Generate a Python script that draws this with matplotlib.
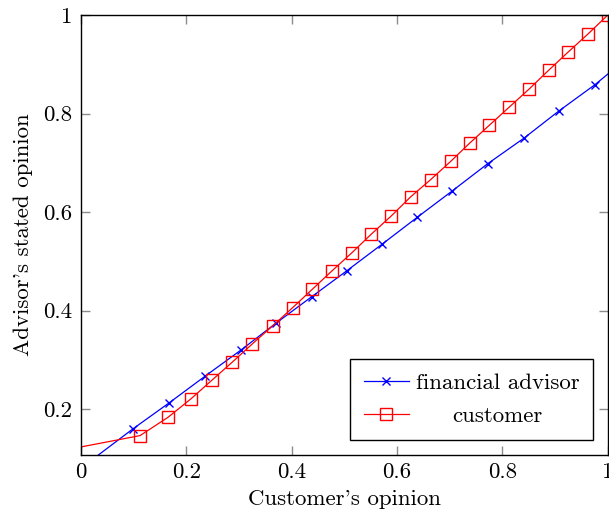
import matplotlib
matplotlib.use('Agg')
import matplotlib.pyplot as plt

plt.rcParams['font.family'] = ['cmr10', 'DejaVu Serif']
plt.rcParams['axes.formatter.use_mathtext'] = True
plt.rcParams['mathtext.fontset'] = 'cm'

# financial advisor (first/last points are the line ends, unmarked)
advisor_x = [0.0, 0.099, 0.168, 0.236, 0.304, 0.371, 0.438, 0.505, 0.572, 0.638,
             0.705, 0.772, 0.841, 0.907, 0.975, 1.0]
advisor_y = [0.080, 0.160, 0.213, 0.267, 0.320, 0.375, 0.428, 0.481, 0.535, 0.589,
             0.643, 0.698, 0.750, 0.805, 0.858, 0.880]

# customer (first point is the line end at the left edge, unmarked)
customer_x = [0.0, 0.112, 0.165, 0.208, 0.248, 0.287, 0.325, 0.364, 0.402, 0.439,
              0.476, 0.514, 0.551, 0.589, 0.626, 0.664, 0.702, 0.738, 0.775,
              0.813, 0.851, 0.888, 0.925, 0.963, 1.0]
customer_y = [0.123, 0.146, 0.183, 0.220, 0.258, 0.295, 0.332, 0.369, 0.406, 0.443,
              0.480, 0.517, 0.555, 0.592, 0.631, 0.666, 0.703, 0.740, 0.776,
              0.813, 0.850, 0.888, 0.925, 0.962, 1.0]

xticks = [0, 0.2, 0.4, 0.6, 0.8, 1]
xticklabels = ['0', '0.2', '0.4', '0.6', '0.8', '1']
yticks = [0.2, 0.4, 0.6, 0.8, 1]
yticklabels = ['0.2', '0.4', '0.6', '0.8', '1']

fs = 16.5

fig = plt.figure(figsize=(6.09, 5.12), dpi=100)
ax = fig.add_axes([0.133, 0.1113, 0.865, 0.8594])

ax.plot(advisor_x, advisor_y, color='blue', lw=0.9, marker='x', ms=6, mew=1.0,
        markevery=list(range(1, len(advisor_x) - 1)), label='financial advisor')
ax.plot(customer_x, customer_y, color='red', lw=0.9, marker='s', ms=8.5, mew=1.0,
        mfc='none', markevery=list(range(1, len(customer_x))), label='customer')

ax.set_xlim(0, 1)
ax.set_ylim(0.1066, 1)
ax.set_xticks(xticks)
ax.set_xticklabels(xticklabels)
ax.set_yticks(yticks)
ax.set_yticklabels(yticklabels)
ax.tick_params(direction='in', length=6.5, width=1.0, color='0.55',
               top=True, right=True, labelsize=fs)
ax.tick_params(axis='x', pad=5.5)
ax.tick_params(axis='y', pad=6.5)
for s in ax.spines.values():
    s.set_linewidth(1.0)

ax.set_xlabel("Customer's opinion", fontsize=fs, labelpad=5.5)
ax.set_ylabel("Advisor's stated opinion", fontsize=fs, labelpad=7)

leg = ax.legend(loc='lower right', fontsize=fs, fancybox=False, framealpha=1,
                edgecolor='black', borderaxespad=0.65, handlelength=1.95,
                handletextpad=0.3, borderpad=0.6, labelspacing=0.6)
leg.get_frame().set_linewidth(1.0)

# center the legend labels like pgfplots does
fig.canvas.draw()
r = fig.canvas.get_renderer()
texts = leg.get_texts()
ws = [t.get_window_extent(r).width for t in texts]
for t, w in zip(texts, ws):
    t.set_x((max(ws) - w) / 2)

fig.savefig('out.png', dpi=100)
